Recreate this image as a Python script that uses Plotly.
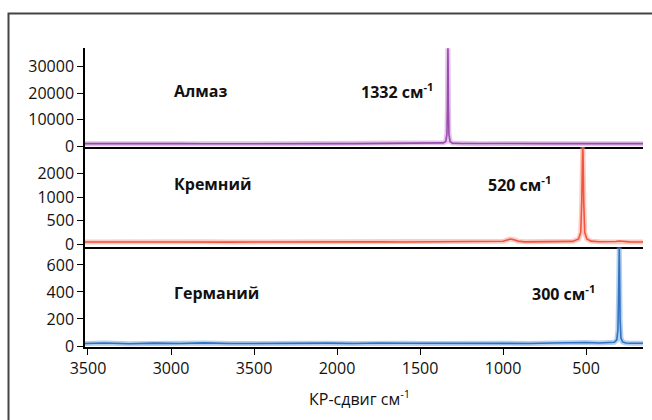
import plotly.graph_objects as go
from plotly.subplots import make_subplots

# ---- data ----
diamond_x = [3518, 3400, 3250, 3100, 2950, 2800, 2650, 2500, 2350, 2200, 2050, 1900, 1750, 1600,
             1480, 1400, 1360, 1345, 1338, 1335, 1333, 1332, 1331, 1329, 1326, 1319, 1305, 1250,
             1150, 1000, 850, 700, 550, 400, 250, 157]
diamond_y = [900, 950, 880, 920, 900, 870, 930, 900, 880, 910, 900, 890, 920, 900,
             950, 1000, 1200, 1700, 4500, 15000, 33000, 37000, 33000, 15000, 4500, 1700, 1100, 950,
             900, 920, 880, 900, 910, 890, 900, 900]

silicon_x = [3518, 3400, 3250, 3100, 2950, 2800, 2650, 2500, 2350, 2200, 2050, 1900, 1750, 1600,
             1450, 1300, 1150, 1050, 1000, 975, 955, 935, 910, 870, 750, 650, 580, 545, 532,
             526, 522, 520, 518, 514, 508, 495, 470, 420, 360, 320, 300, 280, 240, 200, 157]
silicon_y = [45, 50, 42, 48, 45, 52, 44, 47, 50, 45, 48, 44, 50, 46,
             48, 45, 50, 55, 62, 90, 110, 95, 65, 50, 48, 50, 60, 110, 250,
             900, 1900, 2090, 1900, 900, 250, 110, 65, 52, 50, 58, 68, 58, 50, 48, 47]

germanium_x = [3518, 3400, 3250, 3100, 2950, 2800, 2650, 2500, 2350, 2200, 2050, 1900, 1750, 1600,
               1450, 1300, 1150, 1000, 850, 700, 620, 560, 500, 420, 360, 330, 315, 308, 304,
               302, 300, 298, 295, 290, 280, 260, 230, 200, 157]
germanium_y = [18, 22, 17, 21, 19, 23, 18, 20, 22, 19, 21, 18, 22, 20,
               19, 22, 20, 21, 19, 22, 24, 30, 26, 22, 24, 28, 45, 120, 380,
               600, 730, 550, 200, 60, 30, 22, 20, 21, 20]

x_tickvals = [3500, 3000, 2500, 2000, 1500, 1000, 500]
x_ticktext = ["3500", "3000", "3500", "2000", "1500", "1000", "500"]

diamond_ticks = [0, 10000, 20000, 30000]
diamond_ticktext = ["0", "10000", "20000", "30000"]
silicon_ticks = [0, 500, 1000, 1500]
silicon_ticktext = ["0", "500", "1000", "2000"]
germanium_ticks = [0, 200, 400, 600]
germanium_ticktext = ["0", "200", "400", "600"]

names = ["Алмаз", "Кремний", "Германий"]
peak_labels = ["1332 см<sup>-1</sup>", "520 см<sup>-1</sup>", "300 см<sup>-1</sup>"]

# ---- figure ----
FONT = "Open Sans"
W, H = 652, 420
ML, MR, MT, MB = 85, 9, 48, 73
PW, PH = W - ML - MR, H - MT - MB

def px_x(p):
    return (p - ML) / PW

def px_y(p):
    return (H - MB - p) / PH

fig = make_subplots(rows=3, cols=1, shared_xaxes=True, vertical_spacing=0)

series = [
    (diamond_x, diamond_y, "rgba(190,120,205,0.45)", "#9a4cae"),
    (silicon_x, silicon_y, "rgba(250,140,120,0.45)", "#f0553f"),
    (germanium_x, germanium_y, "rgba(110,160,220,0.5)", "#2f73c2"),
]
for i, (xs, ys, halo, core) in enumerate(series, start=1):
    fig.add_trace(go.Scatter(x=xs, y=ys, mode="lines", line=dict(color=halo, width=5),
                             hoverinfo="skip", showlegend=False), row=i, col=1)
    fig.add_trace(go.Scatter(x=xs, y=ys, mode="lines", line=dict(color=core, width=1.6),
                             showlegend=False), row=i, col=1)

# domains
dom_top = [px_y(147), 1.0]
dom_mid = [px_y(247), px_y(147)]
dom_bot = [0.0, px_y(247)]

axis_common = dict(showline=True, linecolor="black", linewidth=1.5, showgrid=False,
                   zeroline=False, ticks="outside", ticklen=6, tickcolor="black", tickwidth=1.2,
                   tickfont=dict(family=FONT, size=16, color="#111"))

fig.update_layout(
    yaxis=dict(domain=dom_top, range=[-375, 37125], tickvals=diamond_ticks,
               ticktext=diamond_ticktext, **axis_common),
    yaxis2=dict(domain=dom_mid, range=[-60, 2070], tickvals=silicon_ticks,
                ticktext=silicon_ticktext, **axis_common),
    yaxis3=dict(domain=dom_bot, range=[-7.4, 733], tickvals=germanium_ticks,
                ticktext=germanium_ticktext, **axis_common),
)
for ax in ["xaxis", "xaxis2"]:
    fig.layout[ax].update(range=[3518, 157], showline=True, linecolor="black", linewidth=1.5,
                          showgrid=False, zeroline=False, ticks="", showticklabels=False)
fig.layout["xaxis3"].update(range=[3518, 157], tickvals=x_tickvals, ticktext=x_ticktext,
                            **axis_common)

annotations = []
name_pos = [(172, 91), (172, 184), (172, 293)]
peak_pos = [(397, 91), (519, 184), (563, 293)]
for n, (px, py) in zip(names, name_pos):
    annotations.append(dict(text="<b>%s</b>" % n, x=px_x(px), y=px_y(py), xref="paper", yref="paper",
                            xanchor="left", yanchor="middle", showarrow=False,
                            font=dict(family=FONT, size=16, color="#111")))
for t, (px, py) in zip(peak_labels, peak_pos):
    annotations.append(dict(text="<b>%s</b>" % t, x=px_x(px), y=px_y(py), xref="paper", yref="paper",
                            xanchor="center", yanchor="middle", showarrow=False,
                            font=dict(family=FONT, size=16, color="#111")))
annotations.append(dict(text="КР-сдвиг см<sup>-1</sup>", x=px_x(359), y=px_y(398), xref="paper",
                        yref="paper", xanchor="center", yanchor="middle", showarrow=False,
                        font=dict(family=FONT, size=16, color="#111")))

fig.update_layout(
    width=W, height=H, margin=dict(l=ML, r=MR, t=MT, b=MB),
    paper_bgcolor="white", plot_bgcolor="white",
    annotations=annotations,
    shapes=[dict(type="rect", xref="paper", yref="paper", x0=px_x(8.5), x1=px_x(700),
                 y0=px_y(500), y1=px_y(13.5), line=dict(color="#444", width=2), layer="below")],
)

fig.write_html("out.html")
